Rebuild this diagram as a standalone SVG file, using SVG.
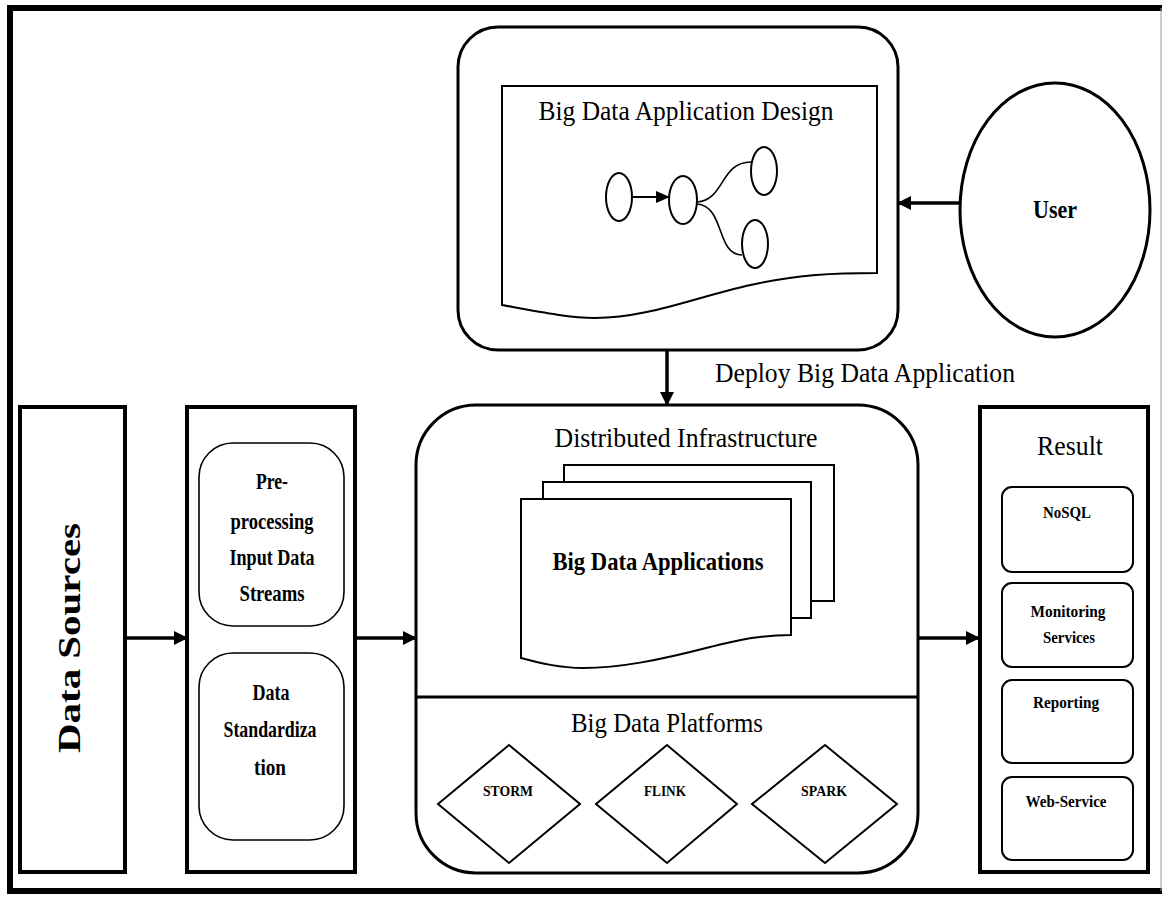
<svg xmlns="http://www.w3.org/2000/svg" width="1162" height="898" viewBox="0 0 1162 898">
<defs>
<marker id="ah" markerUnits="userSpaceOnUse" markerWidth="14" markerHeight="14" refX="13" refY="7" orient="auto"><path d="M0,0 L14,7 L0,14 z" fill="#000"/></marker>
<marker id="ahs" markerUnits="userSpaceOnUse" markerWidth="14" markerHeight="14" refX="13" refY="7" orient="auto"><path d="M0,1 L14,7 L0,13 z" fill="#000"/></marker>
<style>
.t{font-family:"Liberation Serif","Times New Roman",serif;fill:#000;text-anchor:middle}
.b{font-weight:bold}
.thick{fill:#fff;stroke:#000;stroke-width:4}
.med{fill:#fff;stroke:#000;stroke-width:3}
.thin{fill:#fff;stroke:#000;stroke-width:2}
.inner{fill:#fff;stroke:#000;stroke-width:1.6}
.conn{fill:none;stroke:#000;stroke-width:3.5}
</style>
</defs>
<rect width="1162" height="898" fill="#fff"/>
<g id="frame">
<path d="M1162,8 H10 V891 H1162" fill="none" stroke="#000" stroke-width="6"/>
<line x1="1161" y1="8" x2="1161" y2="891" stroke="#999" stroke-width="1"/>
</g>
<g id="design">
<rect x="458" y="27" width="440" height="323" rx="40" class="med"/>
<path d="M502,86 H877 V273 C830,273 800,275 760,283 C700,295 650,318 595,318 C570,318 540,312 502,305 Z" class="thin"/>
<text x="686" y="120" class="t" font-size="28" textLength="295" lengthAdjust="spacingAndGlyphs">Big Data Application Design</text>
<ellipse cx="619" cy="197" rx="13" ry="24" class="thin" stroke-width="1.6"/>
<ellipse cx="683" cy="200" rx="14" ry="24" class="thin" stroke-width="1.6"/>
<ellipse cx="764" cy="171" rx="13" ry="24" class="thin" stroke-width="1.6"/>
<ellipse cx="755" cy="244" rx="13" ry="24" class="thin" stroke-width="1.6"/>
<line x1="632" y1="197" x2="669" y2="197" stroke="#000" stroke-width="2" marker-end="url(#ahs)"/>
<path d="M697,202 C725,200 720,162 751,162" fill="none" stroke="#000" stroke-width="1.6"/>
<path d="M697,204 C725,206 716,255 742,255" fill="none" stroke="#000" stroke-width="1.6"/>
</g>
<g id="user">
<ellipse cx="1055" cy="210" rx="95" ry="127" class="med"/>
<text x="1055" y="218" class="t b" font-size="25" textLength="44" lengthAdjust="spacingAndGlyphs">User</text>
</g>
<g id="data-sources">
<rect x="20" y="407" width="105" height="465" class="thick"/>
<text transform="translate(80,638) rotate(-90)" class="t b" font-size="31" textLength="230" lengthAdjust="spacingAndGlyphs">Data Sources</text>
</g>
<g id="preprocessing">
<rect x="187" y="407" width="168" height="465" class="thick"/>
<rect x="199" y="443" width="145" height="183" rx="34" class="inner"/>
<rect x="199" y="653" width="145" height="187" rx="34" class="inner"/>
<text x="272" y="489" class="t b" font-size="24" textLength="32" lengthAdjust="spacingAndGlyphs">Pre-</text>
<text x="272" y="529" class="t b" font-size="24" textLength="83" lengthAdjust="spacingAndGlyphs">processing</text>
<text x="272" y="565" class="t b" font-size="24" textLength="85" lengthAdjust="spacingAndGlyphs">Input Data</text>
<text x="272" y="601" class="t b" font-size="24" textLength="65" lengthAdjust="spacingAndGlyphs">Streams</text>
<text x="271" y="700" class="t b" font-size="24" textLength="37" lengthAdjust="spacingAndGlyphs">Data</text>
<text x="270" y="737" class="t b" font-size="24" textLength="93" lengthAdjust="spacingAndGlyphs">Standardiza</text>
<text x="270" y="775" class="t b" font-size="24" textLength="32" lengthAdjust="spacingAndGlyphs">tion</text>
</g>
<g id="distributed">
<rect x="416" y="405" width="502" height="468" rx="60" class="med"/>
<line x1="416" y1="697" x2="918" y2="697" stroke="#000" stroke-width="3"/>
<text x="686" y="447" class="t" font-size="28" textLength="263" lengthAdjust="spacingAndGlyphs">Distributed Infrastructure</text>
<rect x="564" y="465" width="270" height="136" class="thin"/>
<rect x="543" y="482" width="268" height="136" class="thin"/>
<path d="M521,499 H791 V635 C760,635 740,640 710,647 C660,660 620,668 583,668 C560,668 540,663 521,658 Z" class="thin"/>
<text x="658" y="570" class="t b" font-size="26" textLength="211" lengthAdjust="spacingAndGlyphs">Big Data Applications</text>
<text x="667" y="732" class="t" font-size="28" textLength="192" lengthAdjust="spacingAndGlyphs">Big Data Platforms</text>
</g>
<g id="storm">
<path d="M438,804 L509,745 L580,804 L509,863 Z" class="thin"/>
<text x="508" y="796" class="t b" font-size="15" textLength="50" lengthAdjust="spacingAndGlyphs">STORM</text>
</g>
<g id="flink">
<path d="M596,804 L667,745 L737,804 L667,863 Z" class="thin"/>
<text x="665" y="796" class="t b" font-size="15" textLength="42" lengthAdjust="spacingAndGlyphs">FLINK</text>
</g>
<g id="spark">
<path d="M752,804 L825,745 L897,804 L825,863 Z" class="thin"/>
<text x="824" y="796" class="t b" font-size="15" textLength="46" lengthAdjust="spacingAndGlyphs">SPARK</text>
</g>
<g id="result">
<rect x="980" y="407" width="168" height="465" class="thick"/>
<text x="1070" y="455" class="t" font-size="28" textLength="66" lengthAdjust="spacingAndGlyphs">Result</text>
<rect x="1002" y="487" width="131" height="85" rx="10" class="thin"/>
<rect x="1002" y="583" width="131" height="84" rx="10" class="thin"/>
<rect x="1002" y="680" width="131" height="83" rx="10" class="thin"/>
<rect x="1002" y="777" width="131" height="83" rx="10" class="thin"/>
<text x="1067" y="518" class="t b" font-size="17" textLength="48" lengthAdjust="spacingAndGlyphs">NoSQL</text>
<text x="1068" y="617" class="t b" font-size="17" textLength="75" lengthAdjust="spacingAndGlyphs">Monitoring</text>
<text x="1069" y="643" class="t b" font-size="17" textLength="52" lengthAdjust="spacingAndGlyphs">Services</text>
<text x="1066" y="708" class="t b" font-size="17" textLength="66" lengthAdjust="spacingAndGlyphs">Reporting</text>
<text x="1066" y="807" class="t b" font-size="17" textLength="81" lengthAdjust="spacingAndGlyphs">Web-Service</text>
</g>
<g id="connectors">
<line x1="960" y1="203" x2="898" y2="203" class="conn" marker-end="url(#ah)"/>
<line x1="667" y1="350" x2="667" y2="405" class="conn" stroke-width="2.5" marker-end="url(#ah)"/>
<line x1="125" y1="638" x2="187" y2="638" class="conn" marker-end="url(#ah)"/>
<line x1="355" y1="638" x2="416" y2="638" class="conn" marker-end="url(#ah)"/>
<line x1="918" y1="638" x2="979" y2="638" class="conn" marker-end="url(#ah)"/>
<text x="865" y="382" class="t" font-size="28" textLength="300" lengthAdjust="spacingAndGlyphs">Deploy Big Data Application</text>
</g>
</svg>
